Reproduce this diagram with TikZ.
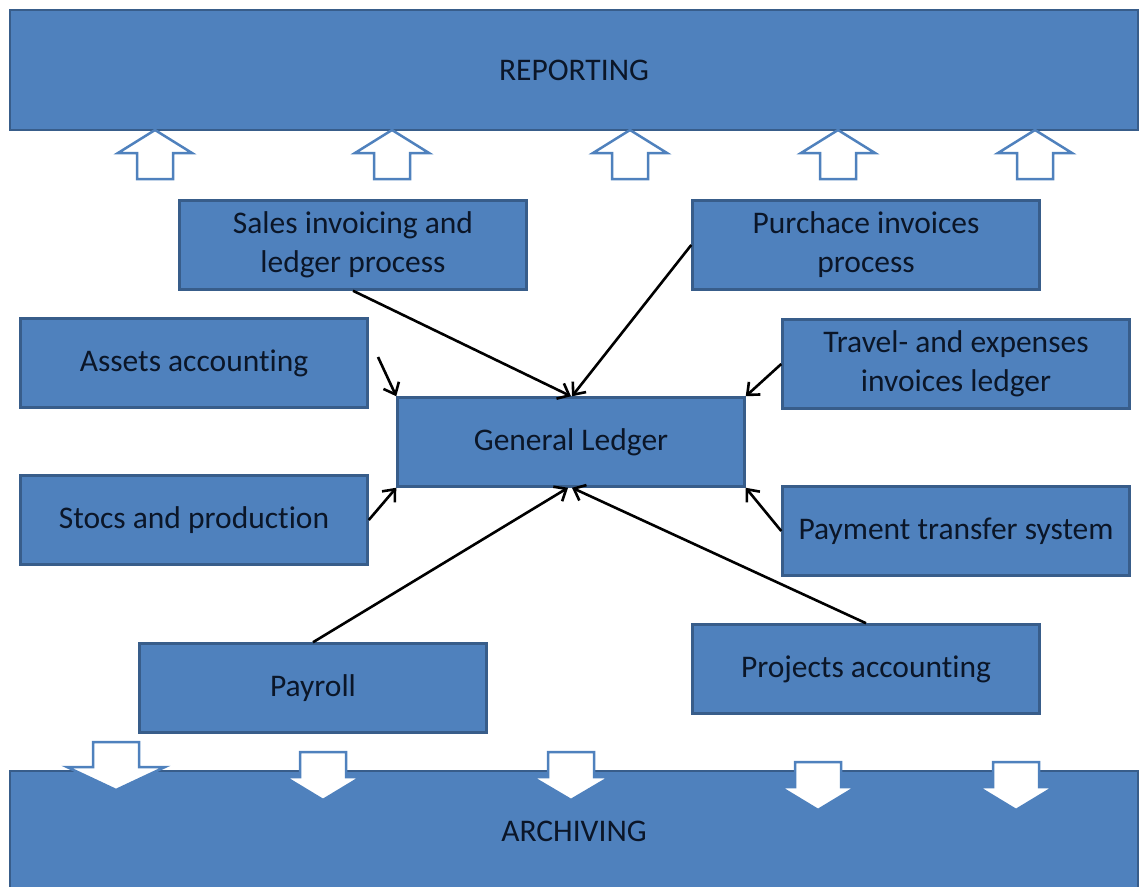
\documentclass[tikz,border=0pt]{standalone}
\usepackage{fontspec}
\setmainfont{Carlito}[Ligatures=NoCommon]
\usetikzlibrary{arrows.meta}
\definecolor{boxfill}{HTML}{4F81BD}
\definecolor{boxline}{HTML}{385D8A}
\definecolor{boxtext}{HTML}{0B1628}

\begin{document}
\begin{tikzpicture}[x=1pt,y=-1pt,
    box/.style={draw=boxline, fill=boxfill, line width=2.5pt, text=boxtext,
      minimum width=347pt, minimum height=89pt, align=center, inner sep=0pt,
      font=\fontsize{31.5}{39}\selectfont},
    band/.style={box, minimum width=1128pt, minimum height=120pt},
    feed/.style={line width=2.6pt, -{Straight Barb[length=10pt,width=17pt,line width=2.6pt]}},
    blockarrow/.style={draw=boxfill, fill=white, line width=2.5pt, line join=miter}]

    \useasboundingbox (0,0) rectangle (1140,886);
    \clip (0,0) rectangle (1140,886);

    % bands
    \node (rep) at (574,70) [band] {REPORTING};
    \node (arc) at (574,831) [band] {ARCHIVING};

    % up arrows
    \foreach \x in {155,392,630,838,1035}
             { \draw[blockarrow] (\x-18,179) -- (\x+18,179) -- (\x+18,153) -- (\x+37,153)
                 -- (\x,130) -- (\x-37,153) -- (\x-18,153) -- cycle;}

    % down arrows
    \foreach \x/\t/\s/\h in {116/742/23/49, 323/752/23/38, 571/752/23/39, 818/762/23/38, 1016/762/23/38}
             { \draw[blockarrow] (\x-\s,\t) -- (\x+\s,\t) -- (\x+\s,\t+25) -- (\x+\h,\t+25)
                 -- (\x,\t+48) -- (\x-\h,\t+25) -- (\x-\s,\t+25) -- cycle;}

    % ledgers
    \node (sal) at (353,245) [box] {Sales invoicing and\\ledger process};
    \node (pur) at (866,245) [box] {Purchace invoices\\process};
    \node (ass) at (194,363) [box] {Assets accounting};
    \node (tra) at (956,364) [box] {Travel- and expenses\\invoices ledger};
    \node (gl)  at (571,442) [box] {General Ledger};
    \node (sto) at (194,520) [box] {Stocs and production};
    \node (pay) at (956,531) [box] {Payment transfer system};
    \node (prl) at (313,688) [box] {Payroll};
    \node (prj) at (866,669) [box] {Projects accounting};

    \coordinate (assout) at (378,357);

    \draw[feed] (sal.south) to (gl.north);
    \draw[feed] (pur.west) to ([xshift=1pt]gl.north);
    \draw[feed] (assout) to (gl.north west);
    \draw[feed] (tra.west) to (gl.north east);
    \draw[feed] (sto.east) to (gl.south west);
    \draw[feed] (pay.west) to (gl.south east);
    \draw[feed] (prl.north) to ([xshift=-3pt]gl.south);
    \draw[feed] (prj.north) to ([xshift=1pt]gl.south);

\end{tikzpicture}
\end{document}
